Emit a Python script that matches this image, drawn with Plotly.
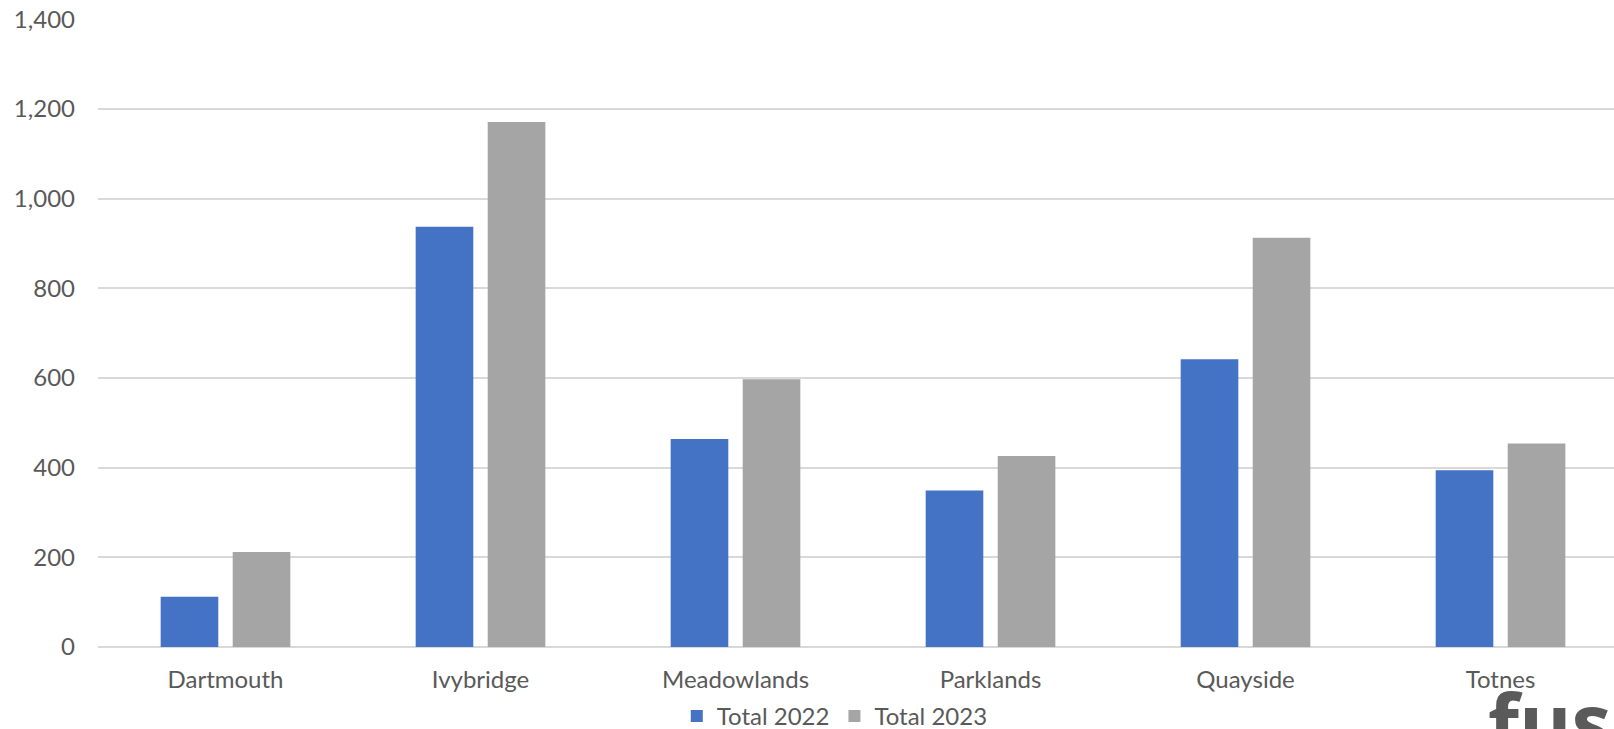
import plotly.graph_objects as go

# Site totals by year
sites = ["Dartmouth", "Ivybridge", "Meadowlands", "Parklands", "Quayside", "Totnes"]
total_2022 = [112, 937, 464, 349, 642, 394]
total_2023 = [212, 1171, 597, 426, 913, 454]
y_ticks = [0, 200, 400, 600, 800, 1000, 1200, 1400]

BLUE = "#4472C4"
GREY = "#A5A5A5"
TEXT = "#595959"
GRID = "#D9D9D9"
FONT = "Lato, 'Open Sans', sans-serif"

PLOT_TOP = 19.0
PLOT_BOTTOM = 646.6
PLOT_LEFT = 98
PLOT_H = PLOT_BOTTOM - PLOT_TOP
PLOT_W = 1614 - PLOT_LEFT

fig = go.Figure()
fig.add_trace(go.Bar(name="Total 2022", x=sites, y=total_2022,
                     marker=dict(color=BLUE, line=dict(width=0))))
fig.add_trace(go.Bar(name="Total 2023", x=sites, y=total_2023,
                     marker=dict(color=GREY, line=dict(width=0))))

fig.update_layout(
    width=1614, height=729,
    margin=dict(l=PLOT_LEFT, r=0, t=PLOT_TOP, b=729 - PLOT_BOTTOM, pad=0,
                autoexpand=False),
    paper_bgcolor="white", plot_bgcolor="white",
    barmode="group", bargap=0.435, bargroupgap=0.2,
    font=dict(family=FONT, size=24, color=TEXT),
    showlegend=True,
    legend=dict(orientation="h", x=0.486, xanchor="center",
                y=-(716 - PLOT_BOTTOM) / PLOT_H, yanchor="middle",
                font=dict(family=FONT, size=24, color=TEXT),
                bgcolor="rgba(0,0,0,0)", itemwidth=30, tracegroupgap=0),
)

fig.update_xaxes(
    range=[-0.5, 5.445], showgrid=False, showline=False, zeroline=False,
    ticks="", tickfont=dict(family=FONT, size=24, color=TEXT),
    ticklabelstandoff=16,
)
fig.update_yaxes(
    range=[0, 1400.6], tickvals=y_ticks,
    ticktext=[f"{v:,}" for v in y_ticks],
    showgrid=True, gridcolor=GRID, gridwidth=1.5,
    zeroline=True, zerolinecolor=GRID, zerolinewidth=1.5,
    showline=False, ticks="", ticklabelstandoff=22,
    tickfont=dict(family=FONT, size=24, color=TEXT),
)

# Brand mark in the lower right corner, running off the page edge
fig.add_annotation(
    text="<b>fus</b>", xref="paper", yref="paper",
    x=(1486 - PLOT_LEFT) / PLOT_W, y=-(664 - PLOT_BOTTOM) / PLOT_H,
    xanchor="left", yanchor="top", showarrow=False,
    font=dict(family="'Open Sans', Lato, sans-serif", size=80, color="#5A5A5A"),
)

fig.write_html("out.html")
